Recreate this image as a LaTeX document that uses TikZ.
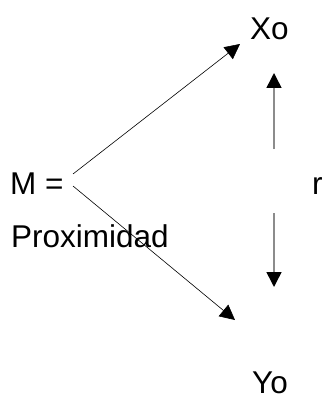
\documentclass[tikz,border=0pt]{standalone}
\usepackage{fontspec}
\setmainfont{Liberation Sans}
\usetikzlibrary{arrows.meta}

\begin{document}
\begin{tikzpicture}[x=1pt,y=-1pt,
   every node/.style={font=\fontsize{31.5}{36}\selectfont,inner sep=0pt,anchor=base west},
   link/.style={-{Triangle[length=15pt,width=15pt]},black,line width=0.6pt},
   corr/.style={-{Triangle[length=15pt,width=15pt,color=black]},black!45,line width=1.5pt}]
  \useasboundingbox (0,0) rectangle (327,401);
  \node (m) at (10,194) {M =};
  \node (prox) at (11,247) {Proximidad};
  \node (xo) at (250,40) {Xo};
  \node (yo) at (252,393) {Yo};
  \node (r) at (312,194) {r};
  % free ends of the arrows
  \coordinate (mup) at (73,174);
  \coordinate (mdown) at (73,186);
  \coordinate (xtip) at (240,44);
  \coordinate (ytip) at (235,320);
  \coordinate (rup) at (274,149);
  \coordinate (rdown) at (274,213);
  \coordinate (rtop) at (274,73);
  \coordinate (rbot) at (274,287);
  \draw[link] (mup) -- (xtip);
  \draw[link] (mdown) -- (ytip);
  \draw[corr] (rup) -- (rtop);
  \draw[corr] (rdown) -- (rbot);
\end{tikzpicture}
\end{document}
